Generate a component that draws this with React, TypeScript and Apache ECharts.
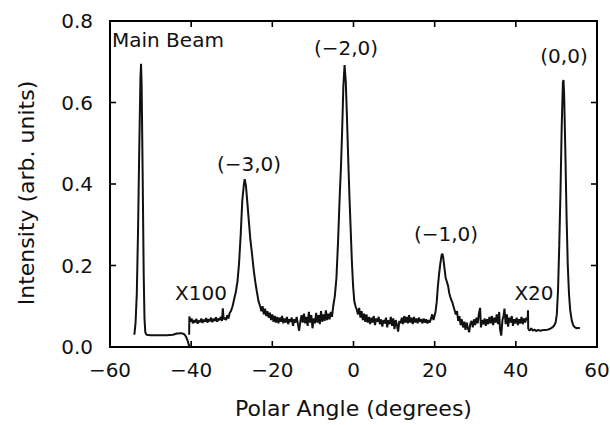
import React, { useEffect, useRef } from "react";
import * as echarts from "echarts";

// Polar angle (degrees) vs intensity (arb. units)
const mainBeam: [number, number][] = [
  [-54.0, 0.030], [-53.7, 0.060], [-53.4, 0.130], [-53.1, 0.280], [-52.8, 0.480],
  [-52.5, 0.660], [-52.35, 0.695], [-52.2, 0.640], [-51.95, 0.420], [-51.7, 0.180],
  [-51.5, 0.070], [-51.3, 0.036], [-51.0, 0.030], [-50.0, 0.029], [-48.0, 0.029],
  [-46.0, 0.029], [-44.5, 0.030], [-43.5, 0.033], [-42.5, 0.034], [-41.8, 0.032],
  [-41.3, 0.026], [-40.9, 0.016], [-40.6, 0.006], [-40.3, 0.0],
];

// Scaled x100 part
const x100Part: [number, number][] = [
  [-40.5, 0.030], [-40.45, 0.075], [-40.2, 0.062], [-39.9, 0.070], [-39.6, 0.058],
  [-39.3, 0.066], [-39.0, 0.060], [-38.7, 0.069], [-38.4, 0.057], [-38.1, 0.065],
  [-37.8, 0.061], [-37.5, 0.070], [-37.2, 0.059], [-36.9, 0.067], [-36.6, 0.062],
  [-36.3, 0.071], [-36.0, 0.060], [-35.7, 0.068], [-35.4, 0.063], [-35.1, 0.072],
  [-34.8, 0.061], [-34.5, 0.069], [-34.2, 0.064], [-33.9, 0.073], [-33.6, 0.062],
  [-33.3, 0.070], [-33.0, 0.066], [-32.7, 0.074], [-32.4, 0.064], [-32.2, 0.095],
  [-32.0, 0.068], [-31.7, 0.072], [-31.4, 0.066], [-31.1, 0.078], [-30.8, 0.070],
  [-30.5, 0.084], [-30.2, 0.088], [-29.8, 0.100], [-29.4, 0.118], [-29.0, 0.135],
  [-28.6, 0.160], [-28.2, 0.205], [-27.8, 0.275], [-27.4, 0.360], [-27.0, 0.400],
  [-26.8, 0.412], [-26.5, 0.395], [-26.2, 0.360], [-25.8, 0.310], [-25.4, 0.262],
  [-25.0, 0.228], [-24.6, 0.190], [-24.2, 0.160], [-23.8, 0.135], [-23.4, 0.112],
  [-23.0, 0.100], [-22.7, 0.088], [-22.4, 0.100], [-22.1, 0.080], [-21.8, 0.094],
  [-21.5, 0.076], [-21.2, 0.088], [-20.9, 0.072], [-20.6, 0.084], [-20.3, 0.066],
  [-20.0, 0.080], [-19.7, 0.062], [-19.4, 0.076], [-19.1, 0.060], [-18.8, 0.074],
  [-18.5, 0.058], [-18.2, 0.072], [-17.9, 0.062], [-17.6, 0.076], [-17.3, 0.058],
  [-17.0, 0.070], [-16.7, 0.060], [-16.4, 0.074], [-16.1, 0.056], [-15.8, 0.068],
  [-15.5, 0.062], [-15.2, 0.072], [-14.9, 0.052], [-14.6, 0.068], [-14.3, 0.060],
  [-14.0, 0.074], [-13.7, 0.056], [-13.4, 0.040], [-13.1, 0.062], [-12.8, 0.078],
  [-12.5, 0.060], [-12.2, 0.082], [-11.9, 0.058], [-11.6, 0.074], [-11.3, 0.052],
  [-11.0, 0.086], [-10.7, 0.060], [-10.4, 0.078], [-10.1, 0.046], [-9.8, 0.070],
  [-9.5, 0.058], [-9.2, 0.084], [-8.9, 0.060], [-8.6, 0.078], [-8.3, 0.056],
  [-8.0, 0.088], [-7.7, 0.062], [-7.4, 0.080], [-7.1, 0.064], [-6.8, 0.090],
  [-6.5, 0.066], [-6.2, 0.082], [-5.9, 0.068], [-5.6, 0.086], [-5.3, 0.074],
  [-5.0, 0.100], [-4.6, 0.125], [-4.2, 0.170], [-3.8, 0.260], [-3.4, 0.370],
  [-3.1, 0.440], [-2.8, 0.530], [-2.5, 0.640], [-2.2, 0.692], [-1.9, 0.650],
  [-1.6, 0.560], [-1.3, 0.460], [-1.0, 0.370], [-0.7, 0.290], [-0.4, 0.210],
  [-0.1, 0.150], [0.2, 0.112], [0.5, 0.100], [0.8, 0.092], [1.1, 0.080],
  [1.4, 0.096], [1.7, 0.072], [2.0, 0.088], [2.3, 0.066], [2.6, 0.082],
  [2.9, 0.062], [3.2, 0.080], [3.5, 0.060], [3.8, 0.074], [4.1, 0.056],
  [4.4, 0.072], [4.7, 0.060], [5.0, 0.076], [5.3, 0.054], [5.6, 0.070],
  [5.9, 0.062], [6.2, 0.074], [6.5, 0.056], [6.8, 0.068], [7.1, 0.050],
  [7.4, 0.066], [7.7, 0.058], [8.0, 0.072], [8.3, 0.048], [8.6, 0.066],
  [8.9, 0.056], [9.2, 0.074], [9.5, 0.052], [9.8, 0.070], [10.1, 0.044],
  [10.4, 0.066], [10.7, 0.054], [11.0, 0.038], [11.3, 0.064], [11.6, 0.058],
  [11.9, 0.072], [12.2, 0.056], [12.5, 0.076], [12.8, 0.060], [13.1, 0.074],
  [13.4, 0.058], [13.7, 0.078], [14.0, 0.060], [14.3, 0.072], [14.6, 0.056],
  [14.9, 0.074], [15.2, 0.060], [15.5, 0.070], [15.8, 0.058], [16.1, 0.072],
  [16.4, 0.062], [16.7, 0.068], [17.0, 0.058], [17.3, 0.070], [17.6, 0.060],
  [17.9, 0.068], [18.2, 0.058], [18.5, 0.066], [18.8, 0.060], [19.1, 0.070],
  [19.4, 0.080], [19.7, 0.066], [20.0, 0.078], [20.2, 0.086], [20.5, 0.110],
  [20.8, 0.150], [21.1, 0.180], [21.4, 0.205], [21.7, 0.225], [21.9, 0.229],
  [22.1, 0.220], [22.4, 0.195], [22.7, 0.170], [23.0, 0.160], [23.3, 0.150],
  [23.6, 0.132], [24.0, 0.118], [24.4, 0.108], [24.8, 0.094], [25.2, 0.080],
  [25.5, 0.088], [25.8, 0.064], [26.1, 0.076], [26.4, 0.054], [26.7, 0.068],
  [27.0, 0.048], [27.3, 0.062], [27.6, 0.042], [27.9, 0.060], [28.2, 0.046],
  [28.5, 0.036], [28.8, 0.058], [29.1, 0.064], [29.4, 0.048], [29.7, 0.068],
  [30.0, 0.054], [30.3, 0.072], [30.6, 0.058], [30.9, 0.082], [31.2, 0.096],
  [31.4, 0.048], [31.7, 0.066], [32.0, 0.056], [32.3, 0.070], [32.6, 0.052],
  [32.9, 0.068], [33.2, 0.056], [33.5, 0.074], [33.8, 0.058], [34.1, 0.076],
  [34.4, 0.054], [34.7, 0.072], [35.0, 0.060], [35.3, 0.080], [35.6, 0.056],
  [35.9, 0.086], [36.1, 0.044], [36.4, 0.028], [36.7, 0.066], [37.0, 0.078],
  [37.2, 0.094], [37.5, 0.056], [37.8, 0.080], [38.1, 0.050], [38.4, 0.072],
  [38.7, 0.060], [39.0, 0.076], [39.3, 0.052], [39.6, 0.068], [39.9, 0.058],
  [40.2, 0.072], [40.5, 0.054], [40.8, 0.068], [41.1, 0.058], [41.4, 0.074],
  [41.7, 0.056], [42.0, 0.070], [42.3, 0.060], [42.6, 0.072], [42.9, 0.066],
  [43.0, 0.090], [43.05, 0.044],
];

// Scaled x20 part
const x20Part: [number, number][] = [
  [43.05, 0.044], [43.4, 0.040], [43.8, 0.046], [44.2, 0.040], [44.6, 0.043],
  [45.0, 0.039], [45.5, 0.042], [46.0, 0.040], [46.5, 0.041], [47.0, 0.042],
  [47.5, 0.042], [48.0, 0.043], [48.5, 0.045], [49.0, 0.048], [49.4, 0.052],
  [49.8, 0.060], [50.1, 0.080], [50.4, 0.140], [50.7, 0.250], [51.0, 0.380],
  [51.3, 0.540], [51.6, 0.650], [51.75, 0.655], [51.9, 0.620], [52.2, 0.480],
  [52.5, 0.320], [52.8, 0.200], [53.1, 0.130], [53.4, 0.090], [53.8, 0.064],
  [54.2, 0.052], [54.6, 0.048], [55.0, 0.046], [55.4, 0.047], [55.8, 0.046],
];

const xRange = { min: -60, max: 60, interval: 20 };
const yRange = { min: 0, max: 0.8, interval: 0.2 };
const xTickValues = [-40, -20, 0, 20, 40];
const yTickValues = [0.2, 0.4, 0.6];
const xTitle = "Polar Angle (degrees)";
const yTitle = "Intensity (arb. units)";

const annotations: { text: string; x: number; y: number }[] = [
  { text: "Main Beam", x: 112, y: 40 },
  { text: "(\u22123,0)", x: 249, y: 164 },
  { text: "(\u22122,0)", x: 346, y: 48 },
  { text: "(\u22121,0)", x: 446, y: 234 },
  { text: "(0,0)", x: 564, y: 56 },
  { text: "X100", x: 201, y: 293 },
  { text: "X20", x: 534, y: 293 },
];

const FONT = "'DejaVu Sans', 'Liberation Sans', sans-serif";
const TICK = 6;

export default function App() {
  const ref = useRef<HTMLDivElement>(null);
  useEffect(() => {
    if (!ref.current) return;
    const chart = echarts.init(ref.current, null, { renderer: "svg" });
    const lineStyle = { color: "#111", width: 2 };
    chart.setOption({
      animation: false,
      grid: {
        left: 110, right: 13, top: 21, bottom: 78,
        outerBoundsMode: "none",
        show: true, borderColor: "#000", borderWidth: 2,
      },
      xAxis: {
        type: "value",
        ...xRange,
        axisLine: { show: false },
        axisTick: { show: false },
        splitLine: { show: false },
        axisLabel: {
          fontFamily: FONT,
          fontSize: 20,
          color: "#111",
          margin: 13,
          formatter: (v: number) => String(v).replace("-", "\u2212"),
        },
      },
      yAxis: {
        type: "value",
        ...yRange,
        axisLine: { show: false },
        axisTick: { show: false },
        splitLine: { show: false },
        axisLabel: {
          fontFamily: FONT,
          fontSize: 20,
          color: "#111",
          margin: 17,
          formatter: (v: number) => v.toFixed(1),
        },
      },
      series: [
        { type: "line", showSymbol: false, data: mainBeam, lineStyle },
        { type: "line", showSymbol: false, data: x100Part, lineStyle },
        { type: "line", showSymbol: false, data: x20Part, lineStyle },
      ],
    });

    const a = chart.convertToPixel({ gridIndex: 0 }, [xRange.min, yRange.max]) as number[];
    const b = chart.convertToPixel({ gridIndex: 0 }, [xRange.max, yRange.min]) as number[];
    const left = a[0], top = a[1], right = b[0], bottom = b[1];
    const graphics: any[] = [
      { type: "rect", shape: { x: left, y: top, width: right - left, height: bottom - top }, style: { stroke: "#000", lineWidth: 2, fill: "none" } },
    ];
    xTickValues.forEach((v) => {
      const px = (chart.convertToPixel({ gridIndex: 0 }, [v, 0]) as number[])[0];
      graphics.push({ type: "line", shape: { x1: px, y1: bottom, x2: px, y2: bottom - TICK }, style: { stroke: "#000", lineWidth: 1.6 } });
      graphics.push({ type: "line", shape: { x1: px, y1: top, x2: px, y2: top + TICK }, style: { stroke: "#000", lineWidth: 1.6 } });
    });
    yTickValues.forEach((v) => {
      const py = (chart.convertToPixel({ gridIndex: 0 }, [0, v]) as number[])[1];
      graphics.push({ type: "line", shape: { x1: left, y1: py, x2: left + TICK, y2: py }, style: { stroke: "#000", lineWidth: 1.6 } });
      graphics.push({ type: "line", shape: { x1: right, y1: py, x2: right - TICK, y2: py }, style: { stroke: "#000", lineWidth: 1.6 } });
    });
    annotations.forEach((t) => {
      graphics.push({
        type: "text",
        x: t.x,
        y: t.y,
        style: {
          text: t.text,
          fill: "#111",
          font: `20px ${FONT}`,
          align: t.text === "Main Beam" ? "left" : "center",
          verticalAlign: "middle",
        },
      });
    });
    graphics.push({
      type: "text",
      x: (left + right) / 2,
      y: 408,
      style: { text: xTitle, fill: "#111", font: `22px ${FONT}`, align: "center", verticalAlign: "middle" },
    });
    graphics.push({
      type: "text",
      x: 26,
      y: 193,
      rotation: Math.PI / 2,
      style: { text: yTitle, fill: "#111", font: `22px ${FONT}`, align: "center", verticalAlign: "middle" },
    });
    chart.setOption({ graphic: graphics });

    return () => chart.dispose();
  }, []);
  return (
    <div
      ref={ref}
      style={{ position: "fixed", left: 0, top: 0, width: 610, height: 425, background: "#fff" }}
    />
  );
}
